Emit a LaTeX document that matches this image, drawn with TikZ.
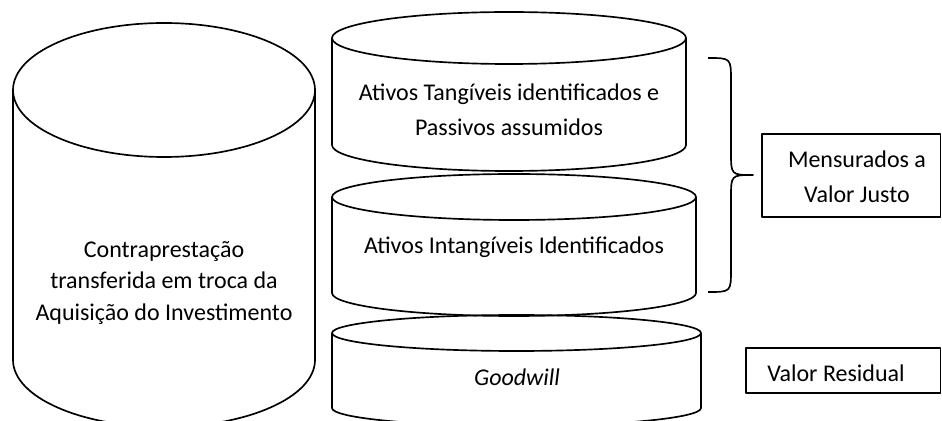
\documentclass[tikz,border=0pt]{standalone}
\usepackage{fontspec}
\setmainfont{Carlito}
\begin{document}
\begin{tikzpicture}[x=0.75pt,y=0.75pt,
  line width=1.25pt, line join=round,
  lbl/.style={align=center, font=\fontsize{18}{23.6}\selectfont, inner sep=0pt},
  widelbl/.style={align=center, font=\fontsize{18}{26.3}\selectfont, inner sep=0pt},
  boxed/.style={draw, line width=1.25pt}]
\useasboundingbox (0,0) rectangle (942,421);
\clip (0,0) rectangle (942,421);
% cylinder: #1 cx, #2 rx, #3 top centre Y, #4 bottom centre Y, #5 ry
\newcommand{\mycyl}[5]{%
  \draw (#1,#3) ellipse [x radius=#2, y radius=#5];
  \draw ({#1-#2},#3) -- ({#1-#2},#4)
        arc[start angle=180, end angle=360, x radius=#2, y radius=#5]
        -- ({#1+#2},#3);}
\mycyl{164}{151}{331}{61}{67}
\mycyl{509}{177}{383}{276}{26}
\mycyl{514}{182}{224}{128}{23}
\mycyl{516.5}{184.5}{88}{13}{18}

\node[lbl] (contra) at (164,138) {Contraprestação\\transferida em troca da\\Aquisição do Investimento};
\node[widelbl] (tang) at (509,311) {Ativos Tangíveis identificados e\\Passivos assumidos};
\node[lbl] (intang) at (514,174) {Ativos Intangíveis Identificados};
\node[lbl] (good) at (517,44) {\itshape Goodwill};

% brace
\coordinate (bt) at (708,363);
\coordinate (bm) at (753,246);
\coordinate (bb) at (708,129);
\draw (bt) .. controls (731,363) .. (731,340) -- (731,269)
      .. controls (731,246) .. (bm)
      .. controls (731,246) .. (731,223) -- (731,152)
      .. controls (731,129) .. (bb);

\draw[boxed] (762,287) rectangle (940.5,204);
\node[widelbl] (mens) at (857,244) {Mensurados a\\Valor Justo};
\draw[boxed] (746,73) rectangle (940.5,28);
\node[lbl] (resid) at (836,48) {Valor Residual};
\end{tikzpicture}
\end{document}
